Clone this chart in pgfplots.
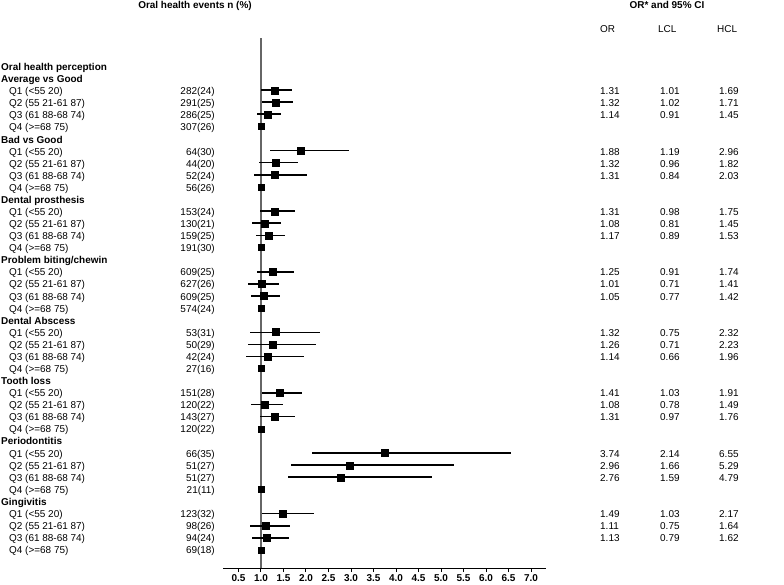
\documentclass[border=0pt]{standalone}
\usepackage{fontspec}
\setmainfont{Liberation Sans}
\usepackage{pgfplots}
\usepackage{pgfplotstable}
\pgfplotsset{compat=1.18}

\pgfplotstableread{
y or lcl hcl
-2 1.31 1.01 1.69
-3 1.32 1.02 1.71
-4 1.14 0.91 1.45
-12 1.31 0.98 1.75
-13 1.08 0.81 1.45
-17 1.25 0.91 1.74
-18 1.01 0.71 1.41
-19 1.05 0.77 1.42
-27 1.41 1.03 1.91
-32 3.74 2.14 6.55
-33 2.96 1.66 5.29
-34 2.76 1.59 4.79
-38 1.11 0.75 1.64
-39 1.13 0.79 1.62
}\thickci

\pgfplotstableread{
y or lcl hcl
-7 1.88 1.19 2.96
-8 1.32 0.96 1.82
-9 1.31 0.84 2.03
-14 1.17 0.89 1.53
-22 1.32 0.75 2.32
-23 1.26 0.71 2.23
-24 1.14 0.66 1.96
-28 1.08 0.78 1.49
-29 1.31 0.97 1.76
-37 1.49 1.03 2.17
}\thinci

\pgfplotstableread{
y or
-5 1
-10 1
-15 1
-20 1
-25 1
-30 1
-35 1
-40 1
}\refq

\begin{document}
\begin{tikzpicture}

\begin{axis}[
  scale only axis, width=323bp, height=530bp,
  at={(223bp,-568bp)}, anchor=south west,
  xmin=0.156, xmax=7.333, ymin=-41.5, ymax=2.32,
  axis x line*=bottom, axis y line=none,
  xtick={0.5,1,1.5,2,2.5,3,3.5,4,4.5,5,5.5,6,6.5,7},
  xticklabels={0.5,1.0,1.5,2.0,2.5,3.0,3.5,4.0,4.5,5.0,5.5,6.0,6.5,7.0},
  x axis line style={line width=1bp, black},
  tick style={black, line width=1bp},
  major tick length=4bp, tick align=outside,
  xticklabel style={font=\bfseries\fontsize{10}{12}\selectfont, inner sep=2pt},
  clip=false,
]
\addplot[black!60, line width=1.4bp] coordinates {(1,2.32) (1,-41.5)};
\addplot[only marks, mark=square*, mark size=3.5bp, black,
  error bars/.cd, x dir=both, x explicit, error mark=none,
  error bar style={line width=1.9bp, black}]
  table[x=or, y=y, x error plus expr=\thisrow{hcl}-\thisrow{or}, x error minus expr=\thisrow{or}-\thisrow{lcl}] {\thickci};
\addplot[only marks, mark=square*, mark size=3.5bp, black,
  error bars/.cd, x dir=both, x explicit, error mark=none,
  error bar style={line width=1.2bp, black}]
  table[x=or, y=y, x error plus expr=\thisrow{hcl}-\thisrow{or}, x error minus expr=\thisrow{or}-\thisrow{lcl}] {\thinci};
\addplot[only marks, mark=square*, mark size=3bp, black] table[x=or, y=y] {\refq};
\end{axis}

\begin{scope}[x=1bp,y=1bp,every node/.style={font=\fontsize{10}{12}\selectfont, inner sep=0pt}]
% headers
\node[anchor=base, font=\bfseries\fontsize{10}{12}\selectfont] at (195,-8.5) {Oral health events n (\%)};
\node[anchor=base, font=\bfseries\fontsize{10}{12}\selectfont] at (667,-8.5) {OR* and 95\% CI};
\node[anchor=base west] at (600,-33) {OR};
\node[anchor=base west] at (658,-33) {LCL};
\node[anchor=base west] at (717,-33) {HCL};

% group headings
\foreach \r/\t in {0/{Oral health perception},1/{Average vs Good},6/{Bad vs Good},11/{Dental prosthesis},16/{Problem biting/chewin},21/{Dental Abscess},26/{Tooth loss},31/{Periodontitis},36/{Gingivitis}}
  \node[anchor=base west, font=\bfseries\fontsize{10}{12}\selectfont] at (1,{-(70.6+12.075*\r)}) {\t};

% quartile labels
\foreach \g in {0,...,7} {
  \foreach \q/\t in {1/{Q1 (<55 20)},2/{Q2 (55 21-61 87)},3/{Q3 (61 88-68 74)},4/{Q4 (>=68 75)}}
    \node[anchor=base west] at (9,{-(70.6+12.075*(1+5*\g+\q))}) {\t};
}

% n (%)
\foreach \r/\t in {2/282(24),3/291(25),4/286(25),5/307(26),
  7/64(30),8/44(20),9/52(24),10/56(26),
  12/153(24),13/130(21),14/159(25),15/191(30),
  17/609(25),18/627(26),19/609(25),20/574(24),
  22/53(31),23/50(29),24/42(24),25/27(16),
  27/151(28),28/120(22),29/143(27),30/120(22),
  32/66(35),33/51(27),34/51(27),35/21(11),
  37/123(32),38/98(26),39/94(24),40/69(18)}
  \node[anchor=base east] at (215,{-(70.6+12.075*\r)}) {\t};

% OR table
\foreach \r/\a/\b/\c in {2/1.31/1.01/1.69,3/1.32/1.02/1.71,4/1.14/0.91/1.45,
  7/1.88/1.19/2.96,8/1.32/0.96/1.82,9/1.31/0.84/2.03,
  12/1.31/0.98/1.75,13/1.08/0.81/1.45,14/1.17/0.89/1.53,
  17/1.25/0.91/1.74,18/1.01/0.71/1.41,19/1.05/0.77/1.42,
  22/1.32/0.75/2.32,23/1.26/0.71/2.23,24/1.14/0.66/1.96,
  27/1.41/1.03/1.91,28/1.08/0.78/1.49,29/1.31/0.97/1.76,
  32/3.74/2.14/6.55,33/2.96/1.66/5.29,34/2.76/1.59/4.79,
  37/1.49/1.03/2.17,38/1.11/0.75/1.64,39/1.13/0.79/1.62} {
  \node[anchor=base west] at (600,{-(70.6+12.075*\r)}) {\a};
  \node[anchor=base west] at (660,{-(70.6+12.075*\r)}) {\b};
  \node[anchor=base west] at (719,{-(70.6+12.075*\r)}) {\c};
}
\pgfresetboundingbox
\path[use as bounding box] (0,0) rectangle (784,-585);
\end{scope}
\end{tikzpicture}
\end{document}
